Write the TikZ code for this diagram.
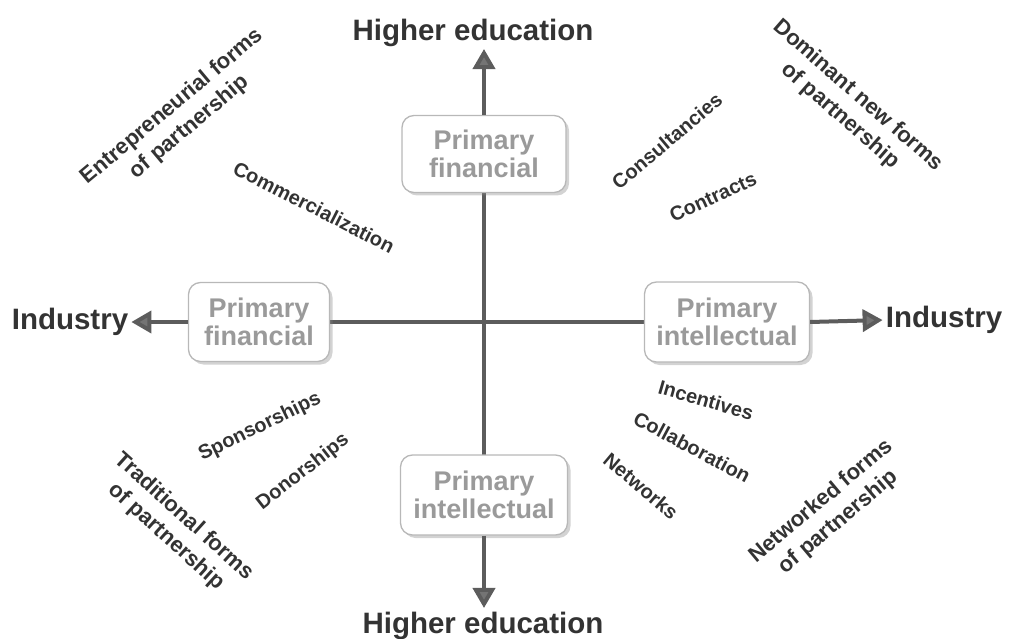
\documentclass[tikz,border=0pt]{standalone}
\usepackage{fontspec}
\setmainfont{Liberation Sans}
\usetikzlibrary{arrows.meta,shadows,backgrounds}
\definecolor{txt}{HTML}{333333}
\definecolor{axiscol}{HTML}{5C5C5C}
\definecolor{boxtxt}{HTML}{9A9A9A}
\begin{document}
\begin{tikzpicture}[x=1pt,y=-1pt,
  box/.style={draw=black!28, line width=1.3pt, rounded corners=12pt, fill=white,
    drop shadow={opacity=0.35, shadow xshift=3pt, shadow yshift=-3pt},
    text=boxtxt, font=\bfseries\fontsize{27}{28}\selectfont, align=center, inner sep=2pt},
  lbl/.style={text=txt, font=\bfseries\fontsize{20}{22}\selectfont, inner sep=1pt},
  big/.style={text=txt, font=\bfseries\fontsize{22}{27}\selectfont, align=center, inner sep=1pt},
  axislbl/.style={text=txt, font=\bfseries\fontsize{29.5}{32}\selectfont, inner sep=1pt},
  ax/.style={draw=axiscol, line width=4pt},
  arr/.style={ax, -{Triangle[length=20pt,width=22pt,fill=axiscol!85]}}]
\useasboundingbox (0,0) rectangle (1009,639);
% axis labels
\node[axislbl] (htop) at (473,33) {Higher education};
\node[axislbl] (hbot) at (483,626) {Higher education};
\node[axislbl] (indL) at (70,322) {Industry};
\node[axislbl] (indR) at (944,320) {Industry};
% boxes
\node[box, minimum width=164pt, minimum height=77pt] (bt) at (484,154) {Primary\\financial};
\node[box, minimum width=141pt, minimum height=79pt] (bl) at (259,322) {Primary\\financial};
\node[box, minimum width=165pt, minimum height=80pt] (br) at (727,322) {Primary\\intellectual};
\node[box, minimum width=167pt, minimum height=80pt] (bb) at (484,495) {Primary\\intellectual};
% axes
\begin{scope}[on background layer]
  \draw[ax] (bt.center) -- (bb.center);
  \draw[ax] (bl.center) -- (br.center);
\end{scope}
\draw[arr, shorten >=1pt] (bt.north) -- (bt.north |- htop.south);
\draw[arr, shorten >=3pt] (bb.south) -- (bb.south |- hbot.north);
\draw[arr, shorten >=2pt] (bl.west) -- (indL.east);
\draw[arr, shorten >=2pt] (br.east) -- (indR.west);
% small labels
\node[lbl, rotate=-27] (comm) at (314,207) {Commercialization};
\node[lbl, rotate=40] (cons) at (667,141) {Consultancies};
\node[lbl, rotate=25] (contr) at (713,197) {Contracts};
\node[lbl, rotate=26] (spon) at (260,427) {Sponsorships};
\node[lbl, rotate=38] (don) at (303,472) {Donorships};
\node[lbl, rotate=-16] (inc) at (706,400) {Incentives};
\node[lbl, rotate=-28] (coll) at (692,447) {Collaboration};
\node[lbl, rotate=-40] (netw) at (641,486) {Networks};
% quadrant labels
\node[big, rotate=40] (entre) at (181,117) {Entrepreneurial forms\\of partnership};
\node[big, rotate=-41] (domin) at (849,106) {Dominant new forms\\of partnership};
\node[big, rotate=-42] (trad) at (175,527) {Traditional forms\\of partnership};
\node[big, rotate=40] (netf) at (830,512) {Networked forms\\of partnership};
\end{tikzpicture}
\end{document}
